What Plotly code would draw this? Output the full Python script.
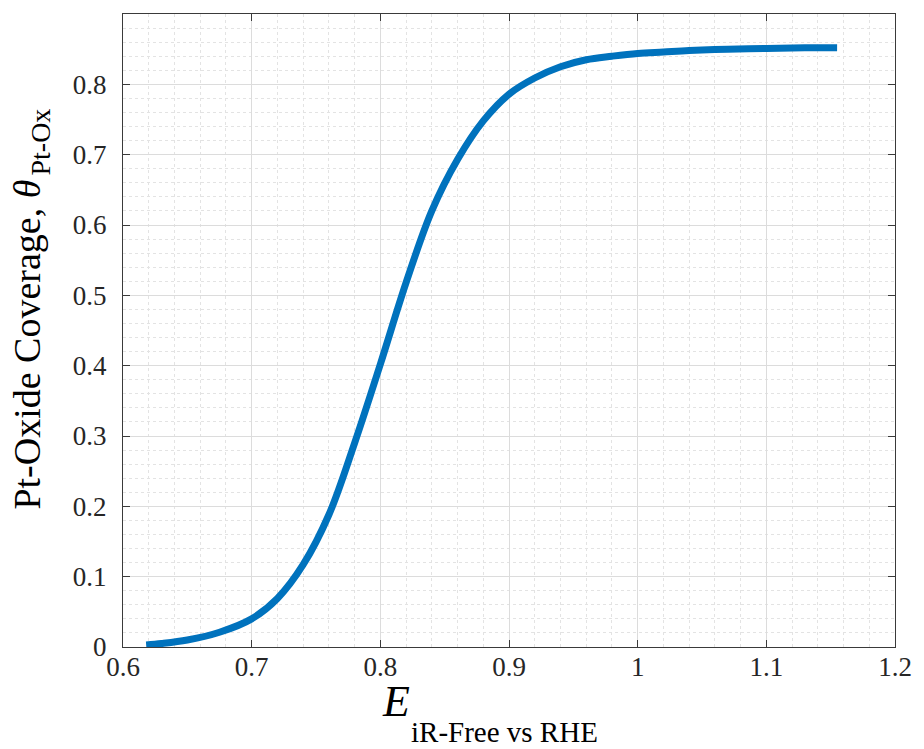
import plotly.graph_objects as go

# Potential (V vs RHE) and Pt-oxide surface coverage
potential = [0.618, 0.63, 0.65, 0.675, 0.70, 0.72, 0.74, 0.76, 0.78, 0.80,
             0.82, 0.84, 0.86, 0.88, 0.90, 0.92, 0.94, 0.96, 0.98, 1.00,
             1.02, 1.04, 1.07, 1.10, 1.13, 1.155]
coverage = [0.003, 0.005, 0.010, 0.021, 0.040, 0.069, 0.117, 0.188, 0.290, 0.402,
            0.518, 0.620, 0.693, 0.748, 0.786, 0.809, 0.825, 0.835, 0.840, 0.844,
            0.846, 0.848, 0.850, 0.851, 0.852, 0.852]

x_ticks = [0.6, 0.7, 0.8, 0.9, 1.0, 1.1, 1.2]
x_tick_text = ["0.6", "0.7", "0.8", "0.9", "1", "1.1", "1.2"]
y_ticks = [0, 0.1, 0.2, 0.3, 0.4, 0.5, 0.6, 0.7, 0.8, 0.9]
y_tick_text = ["0", "0.1", "0.2", "0.3", "0.4", "0.5", "0.6", "0.7", "0.8", "0.9"]

W, H = 924, 749
L, R, T, B = 123, 24, 14, 102
PW, PH = W - L - R, H - T - B

def px(xp):
    return (xp - L) / PW

def py(yp):
    return (H - B - yp) / PH

SERIF = "Liberation Serif"
AXIS_COLOR = "#3a3a3a"

fig = go.Figure()
fig.add_trace(go.Scatter(
    x=potential, y=coverage, mode="lines",
    line=dict(color="#0072BD", width=7, shape="spline", smoothing=1.0),
    showlegend=False,
))

axis_common = dict(
    showline=True, linecolor=AXIS_COLOR, linewidth=1, mirror="ticks",
    ticks="inside", ticklen=7, tickcolor=AXIS_COLOR, tickwidth=1,
    showgrid=True, gridcolor="#dcdcdc", gridwidth=1,
    zeroline=False,
    tickfont=dict(family=SERIF, size=27, color="#262626"),
)

fig.update_xaxes(
    range=[0.6, 1.2], tickmode="array", tickvals=x_ticks, ticktext=x_tick_text,
    minor=dict(dtick=0.02, showgrid=True, gridcolor="#e3e3e3", griddash="dot", ticks=""),
    ticklabelstandoff=-4,
    **axis_common,
)
fig.update_yaxes(
    range=[0, 0.9], tickmode="array", tickvals=y_ticks, ticktext=y_tick_text,
    minor=dict(dtick=0.02, showgrid=True, gridcolor="#e3e3e3", griddash="dot", ticks=""),
    ticklabelstandoff=10,
    **axis_common,
)

annotations = [
    # x-axis title: E with subscript
    dict(text="<i>E</i>", x=px(382), y=py(701), xanchor="left", yanchor="middle",
         font=dict(family=SERIF, size=44, color="#000000")),
    dict(text="iR-Free vs RHE", x=px(411), y=py(732), xanchor="left", yanchor="middle",
         font=dict(family=SERIF, size=29, color="#000000")),
    # y-axis title: coverage with theta subscript
    dict(text="Pt-Oxide Coverage, <i>θ</i>", x=px(26), y=py(345), xanchor="center",
         yanchor="middle", textangle=-90,
         font=dict(family=SERIF, size=38, color="#000000")),
    dict(text="Pt-Ox", x=px(39), y=py(142), xanchor="center", yanchor="middle",
         textangle=-90, font=dict(family=SERIF, size=28, color="#000000")),
]
for a in annotations:
    a.update(xref="paper", yref="paper", showarrow=False)

fig.update_layout(
    width=W, height=H,
    margin=dict(l=L, r=R, t=T, b=B),
    paper_bgcolor="white", plot_bgcolor="white",
    font=dict(family=SERIF, color="#262626"),
    annotations=annotations,
)

fig.write_html("out.html")
